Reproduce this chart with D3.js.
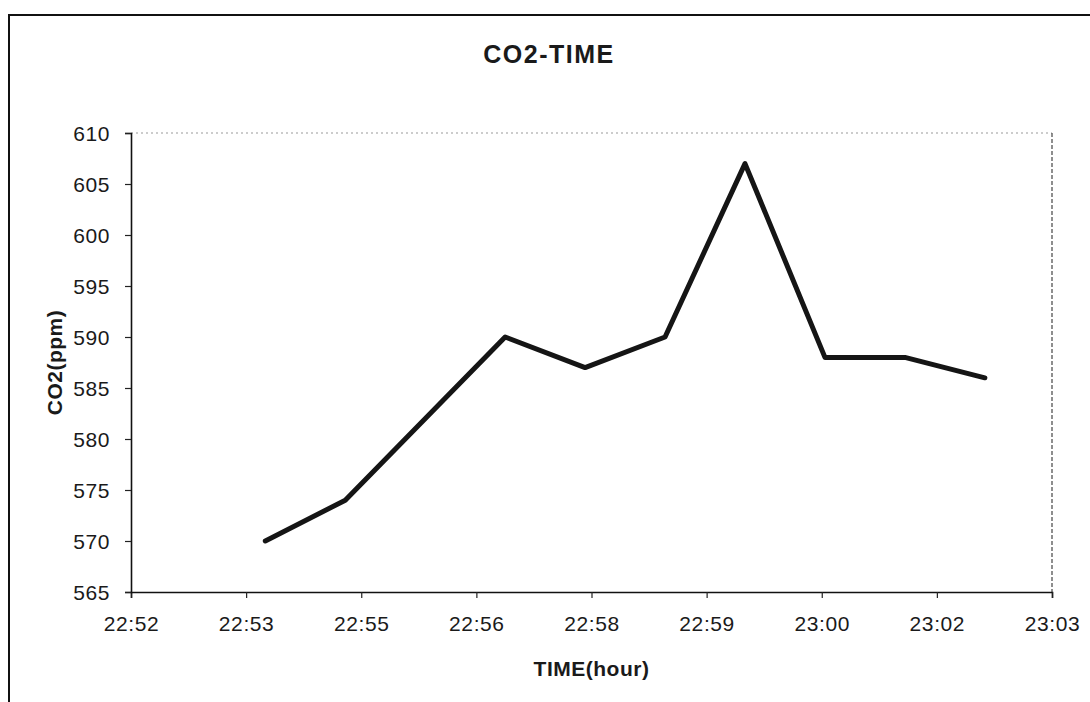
<!DOCTYPE html>
<meta charset="utf-8">

<!-- Load d3.js -->
<script src="https://d3js.org/d3.v7.min.js"></script>

<style>
  body { margin: 0; background: #fff; }
  text { font-family: "Liberation Sans", Arial, sans-serif; fill: #1a1a1a; }
</style>

<div id="my_dataviz"></div>

<script>

// data
var times = ["22:54:00", "22:55:00", "22:57:00", "22:58:00", "22:59:00",
             "23:00:00", "23:01:00", "23:02:00", "23:03:00"];
var co2 = [570, 574, 590, 587, 590, 607, 588, 588, 586];

// axis ticks (x in fraction of a day, like the spreadsheet)
var xTickDays = [0.953, 0.954, 0.955, 0.956, 0.957, 0.958, 0.959, 0.960, 0.961];
var xTickLabels = ["22:52", "22:53", "22:55", "22:56", "22:58", "22:59", "23:00", "23:02", "23:03"];
var yTicks = [565, 570, 575, 580, 585, 590, 595, 600, 605, 610];

// turn "hh:mm:ss" into a fraction of a day
function toDay(s) {
  var p = s.split(":").map(Number);
  return (p[0] * 3600 + p[1] * 60 + p[2]) / 86400;
}

var data = times.map(function(t, i) { return {day: toDay(t), v: co2[i]}; });

var W = 1090, H = 702;
var margin = {top: 133, right: 38, bottom: 110, left: 131},
    width = W - margin.left - margin.right,
    height = H - margin.top - margin.bottom;

var root = d3.select("#my_dataviz")
  .append("svg")
    .attr("width", W)
    .attr("height", H);

// outer frame of the scanned page
root.append("rect")
  .attr("x", 9).attr("y", 15)
  .attr("width", W + 20).attr("height", H + 20)
  .attr("fill", "none")
  .attr("stroke", "#111")
  .attr("stroke-width", 2);

var svg = root.append("g")
  .attr("transform", "translate(" + margin.left + "," + margin.top + ")");

var x = d3.scaleLinear()
  .domain([xTickDays[0], xTickDays[xTickDays.length - 1]])
  .range([0, width]);

var y = d3.scaleLinear()
  .domain([565, 610])
  .range([height, 0]);

// top and right edges of the plot area
svg.append("line")
  .attr("x1", 0).attr("x2", width)
  .attr("y1", 0).attr("y2", 0)
  .attr("stroke", "#999")
  .attr("stroke-width", 1)
  .attr("stroke-dasharray", "2,3");
svg.append("line")
  .attr("x1", width).attr("x2", width)
  .attr("y1", 0).attr("y2", height)
  .attr("stroke", "#444")
  .attr("stroke-width", 1.2)
  .attr("stroke-dasharray", "4,2");

// X axis
var xAxis = svg.append("g")
  .attr("transform", "translate(0," + height + ")")
  .call(d3.axisBottom(x)
    .tickValues(xTickDays)
    .tickSize(6)
    .tickPadding(18)
    .tickFormat(function(d, i) { return xTickLabels[i]; }));

// Y axis
var yAxis = svg.append("g")
  .call(d3.axisLeft(y)
    .tickValues(yTicks)
    .tickSize(6)
    .tickPadding(15));

[xAxis, yAxis].forEach(function(a) {
  a.select(".domain").attr("stroke", "#111").attr("stroke-width", 1.6);
  a.selectAll(".tick line").attr("stroke", "#222").attr("stroke-width", 1.2);
  a.selectAll(".tick text")
    .style("font-size", "21px")
    .style("letter-spacing", "0.6px")
    .style("font-family", "'Liberation Sans', Arial, sans-serif")
    .attr("fill", "#1a1a1a");
});
yAxis.selectAll(".tick text").attr("dy", "0.36em");

// the line
svg.append("path")
  .datum(data)
  .attr("fill", "none")
  .attr("stroke", "#151515")
  .attr("stroke-width", 5)
  .attr("stroke-linejoin", "round")
  .attr("stroke-linecap", "round")
  .attr("d", d3.line()
    .x(function(d) { return x(d.day); })
    .y(function(d) { return y(d.v); }));

// title
root.append("text")
  .attr("x", 549)
  .attr("y", 63)
  .style("text-anchor", "middle")
  .style("font-size", "25px")
  .style("font-weight", "bold")
  .style("letter-spacing", "1.5px")
  .text("CO2-TIME");

// x label
root.append("text")
  .attr("x", margin.left + width / 2)
  .attr("y", 676)
  .style("text-anchor", "middle")
  .style("font-size", "21px")
  .style("font-weight", "bold")
  .style("letter-spacing", "0.5px")
  .text("TIME(hour)");

// y label
root.append("text")
  .attr("transform", "translate(62," + (margin.top + height / 2) + ") rotate(-90)")
  .style("text-anchor", "middle")
  .style("font-size", "21px")
  .style("font-weight", "bold")
  .style("letter-spacing", "0.5px")
  .text("CO2(ppm)");

</script>
